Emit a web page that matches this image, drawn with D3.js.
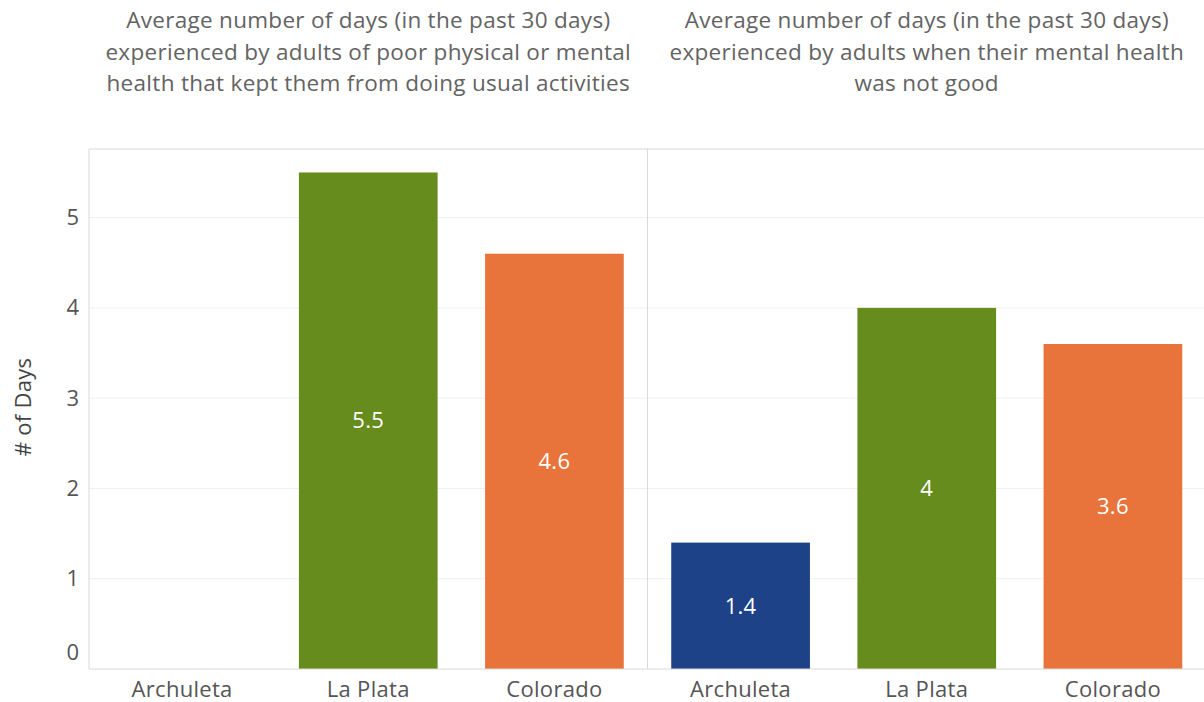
<!DOCTYPE html>
<html><head><meta charset="utf-8">
<script src="https://cdn.jsdelivr.net/npm/d3@7"></script>
<style>body{margin:0;background:#fff;}svg{display:block;font-family:"Open Sans",sans-serif;}</style>
</head><body><svg id="c" width="1204" height="702"></svg>
<script>
const panels = [
  ["Average number of days (in the past 30 days)", "experienced by adults of poor physical or mental", "health that kept them from doing usual activities"],
  ["Average number of days (in the past 30 days)", "experienced by adults when their mental health", "was not good"]
];
const categories = ["Archuleta", "La Plata", "Colorado"];
const valuesActivities = [null, 5.5, 4.6];
const valuesMental = [1.4, 4.0, 3.6];
const colors = ["#1d4288", "#668c1d", "#e8743c"];
const yTicks = [0, 1, 2, 3, 4, 5];
const yTitle = "# of Days";

(function () {
const svg = d3.select("#c");
const plotTop = 149, plotBottom = 669, left = 89, panelW = 558.5;
const FS = 22, LS = "0.3px";
const y = d3.scaleLinear().domain([0, 5.76]).range([plotBottom, plotTop]);
const series = [valuesActivities, valuesMental];

svg.append("g").selectAll("line").data(yTicks.filter(d => d > 0)).join("line")
  .attr("x1", left).attr("x2", 1204).attr("y1", d => y(d)).attr("y2", d => y(d))
  .attr("stroke", "#f0f0f0").attr("stroke-width", 1);

series.forEach((vals, p) => {
  const x0 = left + p * panelW;
  const x = d3.scaleBand().domain(categories).range([x0, x0 + panelW]).paddingInner(0.255).paddingOuter(0.1275);
  const g = svg.append("g");
  const data = categories.map((c, i) => ({c, v: vals[i], col: colors[i]})).filter(d => d.v != null);
  g.selectAll("rect").data(data).join("rect")
    .attr("x", d => x(d.c)).attr("width", x.bandwidth())
    .attr("y", d => y(d.v)).attr("height", d => y(0) - y(d.v))
    .attr("fill", d => d.col);
  g.selectAll("text.v").data(data).join("text").attr("class", "v")
    .attr("x", d => x(d.c) + x.bandwidth() / 2)
    .attr("y", d => (y(d.v) + y(0)) / 2)
    .attr("dy", "0.35em").attr("text-anchor", "middle").attr("letter-spacing", LS)
    .attr("fill", "#fff").attr("font-size", FS).text(d => d3.format("~g")(d.v));
  const ax = d3.axisBottom(x).tickSize(0).tickPadding(12);
  const axg = svg.append("g").attr("transform", `translate(0,${plotBottom})`).call(ax);
  axg.select(".domain").remove();
  axg.selectAll("text").attr("font-size", FS).attr("fill", "#555").attr("letter-spacing", LS)
    .attr("font-family", "Open Sans, sans-serif");
  const cx = x0 + panelW / 2;
  svg.append("g").selectAll("text").data(panels[p]).join("text")
    .attr("x", cx).attr("y", (d, i) => 28 + i * 31.5).attr("text-anchor", "middle")
    .attr("letter-spacing", LS).attr("fill", "#636363").attr("font-size", FS + 0.5).text(d => d);
});

svg.append("line").attr("x1", left).attr("x2", 1204).attr("y1", plotTop).attr("y2", plotTop).attr("stroke", "#d9d9d9");
svg.append("line").attr("x1", left).attr("x2", 1204).attr("y1", plotBottom).attr("y2", plotBottom).attr("stroke", "#d9d9d9");
svg.append("line").attr("x1", left).attr("x2", left).attr("y1", plotTop).attr("y2", plotBottom).attr("stroke", "#d9d9d9");
svg.append("line").attr("x1", left + panelW).attr("x2", left + panelW).attr("y1", plotTop).attr("y2", plotBottom).attr("stroke", "#d9d9d9");

const ay = d3.axisLeft(y).tickValues(yTicks).tickSize(0).tickPadding(10).tickFormat(d3.format("d"));
const ayg = svg.append("g").attr("transform", `translate(${left},0)`).call(ay);
ayg.select(".domain").remove();
ayg.selectAll("text").attr("font-size", FS).attr("fill", "#555").attr("font-family", "Open Sans, sans-serif");
ayg.selectAll(".tick").filter(d => d === 0).select("text").attr("dy", "-0.45em");

svg.append("text").attr("transform", `translate(31,407) rotate(-90)`)
  .attr("text-anchor", "middle").attr("fill", "#444").attr("letter-spacing", LS)
  .attr("font-size", FS).text(yTitle);
})();
</script></body></html>
